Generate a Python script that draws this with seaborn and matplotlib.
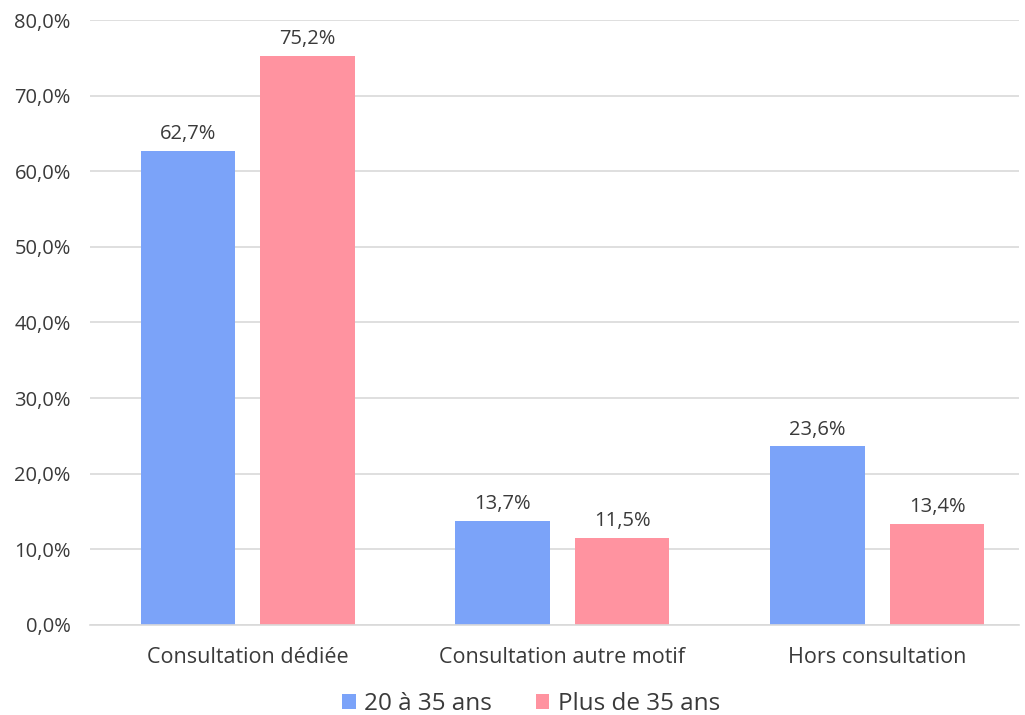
import matplotlib
matplotlib.use('Agg')
import matplotlib.pyplot as plt
import seaborn as sns
import pandas as pd
from matplotlib.ticker import FuncFormatter

categories = ['Consultation dédiée', 'Consultation autre motif', 'Hors consultation']
groupes = ['20 à 35 ans', 'Plus de 35 ans']
valeurs_20_35 = [62.7, 13.7, 23.6]
valeurs_plus_35 = [75.2, 11.5, 13.4]
couleurs = ['#7BA3F9', '#FF93A0']
couleur_texte = '#3a3a3a'

df = pd.DataFrame({
    'categorie': categories * 2,
    'groupe': [groupes[0]] * 3 + [groupes[1]] * 3,
    'valeur': valeurs_20_35 + valeurs_plus_35,
})

sns.set_style('white')
plt.rcParams['font.family'] = ['Open Sans', 'DejaVu Sans']

fig = plt.figure(figsize=(10.25, 7.15), dpi=100)
ax = fig.add_axes([0.088, 0.126, 0.906, 0.846])

sns.barplot(data=df, x='categorie', y='valeur', hue='groupe', palette=couleurs,
            saturation=1, width=0.76, gap=0.21, linewidth=0, ax=ax, legend=True)

# étiquettes de valeurs au-dessus des barres
for conteneur in ax.containers:
    ax.bar_label(conteneur, labels=[f'{v:.1f}%'.replace('.', ',') for v in conteneur.datavalues],
                 padding=5, fontsize=14.5, color=couleur_texte)

ax.set_ylim(0, 80)
ax.set_xlim(-0.5, 2.45)
ax.set_yticks(range(0, 81, 10))
ax.yaxis.set_major_formatter(FuncFormatter(lambda v, p: f'{v:.1f}%'.replace('.', ',')))
ax.grid(axis='y', color='#d9d9d9', linewidth=1.2)
ax.set_axisbelow(True)
for s in ['top', 'right', 'left']:
    ax.spines[s].set_visible(False)
ax.spines['bottom'].set_color('#d9d9d9')
ax.spines['bottom'].set_linewidth(1.2)
ax.tick_params(axis='both', length=0, labelsize=14.5, labelcolor=couleur_texte)
ax.tick_params(axis='x', pad=16, labelsize=15.5)
ax.tick_params(axis='y', pad=14)
ax.set_xlabel('')
ax.set_ylabel('')

ax.legend(loc='upper center', bbox_to_anchor=(0.475, -0.075), ncol=2, frameon=False,
          fontsize=17.5, handlelength=0.55, handleheight=0.55, handletextpad=0.35,
          columnspacing=1.8, labelcolor=couleur_texte)

fig.savefig('out.png', dpi=100)
